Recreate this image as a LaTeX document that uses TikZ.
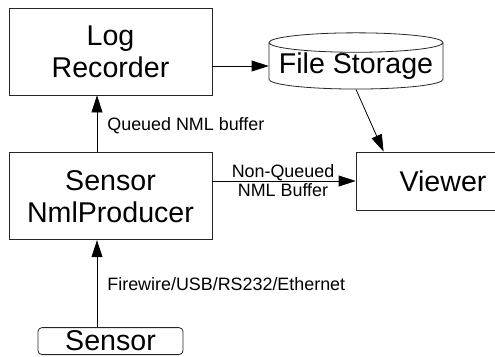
\documentclass[tikz,border=0pt]{standalone}
\usepackage{fontspec}
\setmainfont{Liberation Sans}
\usetikzlibrary{positioning,shapes.geometric,arrows.meta}
\begin{document}
\begin{tikzpicture}[x=1pt, y=-1pt]
		\tikzstyle{procbox} = [rectangle, minimum width=203pt, minimum height=87pt, text centered, align=center, draw=black!85, line width=0.8pt, font=\fontsize{28.6}{32}\selectfont];
		\tikzstyle{viewbox} = [rectangle, minimum width=174pt, minimum height=58pt, text centered, draw=black!85, line width=0.8pt, font=\fontsize{28.6}{32}\selectfont];
		\tikzstyle{storebox} = [cylinder, shape border rotate=90, aspect=0.126, minimum width=174pt, minimum height=56pt, inner sep=0pt, draw=black!85, line width=0.8pt, font=\fontsize{28.6}{32}\selectfont];
		\tikzstyle{devbox} = [rectangle, rounded corners=4pt, minimum width=145pt, minimum height=27pt, inner sep=0pt, draw=black!85, line width=0.8pt, font=\fontsize{28.6}{32}\selectfont];
		\tikzstyle{lbl} = [font=\fontsize{17.9}{19}\selectfont, inner sep=0pt];
		\tikzstyle{flow} = [line width=0.8pt, -{Triangle[length=17pt, width=11pt]}];
		\useasboundingbox (0,0) rectangle (495,356);
		\clip (0,0) rectangle (495,356);
		\node (logrec) [procbox] at (110.5,51.5) {Log\\Recorder};
		\node (snp) [procbox, below=57pt of logrec] {Sensor\\NmlProducer};
		\node (sensor) [devbox, below=87pt of snp] {Sensor};
		\node (filestore) [storebox] at (356,66) {File Storage};
		\node (viewer) [viewbox] at (443,181) {Viewer};
		\draw[flow] ([xshift=-13.5pt]sensor.north) -- node (fwlbl) [lbl, right=10pt] {Firewire/USB/RS232/Ethernet} ([xshift=-13.5pt]snp.south);
		\draw[flow] ([xshift=-13.5pt]snp.north) -- node (qlbl) [lbl, right=10pt, yshift=-2pt] {Queued NML buffer} ([xshift=-13.5pt]logrec.south);
		\draw[flow] (snp.east |- viewer.west) -- node (nqlbl) [lbl, align=center, xshift=-1pt] {Non-Queued\\NML Buffer} (viewer.west);
		\draw[flow] (logrec.east |- filestore.west) -- (filestore.west);
		\draw[flow] (filestore.south) -- ([xshift=28pt]viewer.north west);
	\end{tikzpicture}
\end{document}
